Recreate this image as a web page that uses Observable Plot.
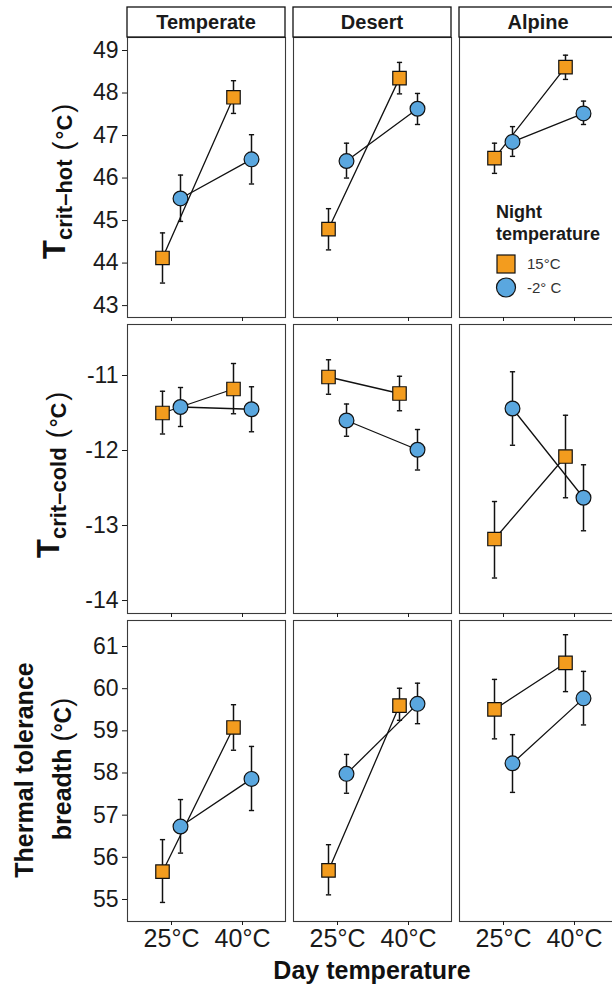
<!DOCTYPE html>
<html><head><meta charset="utf-8">
<script src="https://cdn.jsdelivr.net/npm/d3@7"></script>
<script src="https://cdn.jsdelivr.net/npm/@observablehq/plot@0.6"></script>
<style>
html,body{margin:0;padding:0;background:#fff;overflow:hidden;}
#chart{width:620px;position:relative;font-family:"Liberation Sans",Arial,sans-serif;}
#chart svg{display:block;}
</style></head><body><div id="chart"></div>
<script>
// ---- data (order: Temperate 25°C, Temperate 40°C, Desert 25°C, Desert 40°C, Alpine 25°C, Alpine 40°C)
const habitats = ["Temperate", "Desert", "Alpine"];
const days = ["25°C", "40°C"];
const nights = ["15°C", "-2° C"];

const hotMean15 = [44.12, 47.90, 44.80, 48.35, 46.47, 48.61];
const hotLo15   = [43.53, 47.52, 44.31, 47.98, 46.11, 48.32];
const hotHi15   = [44.71, 48.29, 45.28, 48.72, 46.82, 48.89];
const hotMeanM2 = [45.52, 46.44, 46.40, 47.63, 46.85, 47.52];
const hotLoM2   = [44.98, 45.86, 46.00, 47.26, 46.51, 47.26];
const hotHiM2   = [46.07, 47.02, 46.82, 47.99, 47.21, 47.81];

const coldMean15 = [-11.50, -11.18, -11.02, -11.24, -13.18, -12.08];
const coldLo15   = [-11.78, -11.51, -11.25, -11.47, -13.70, -12.63];
const coldHi15   = [-11.21, -10.84, -10.79, -11.01, -12.68, -11.53];
const coldMeanM2 = [-11.42, -11.45, -11.60, -11.99, -11.44, -12.63];
const coldLoM2   = [-11.68, -11.75, -11.81, -12.26, -11.93, -13.07];
const coldHiM2   = [-11.16, -11.15, -11.38, -11.72, -10.95, -12.19];

const brMean15 = [55.66, 59.08, 55.69, 59.60, 59.51, 60.61];
const brLo15   = [54.93, 58.54, 55.11, 59.25, 58.81, 59.93];
const brHi15   = [56.42, 59.62, 56.30, 60.01, 60.22, 61.28];
const brMeanM2 = [56.73, 57.86, 57.98, 59.64, 58.23, 59.77];
const brLoM2   = [56.10, 57.11, 57.52, 59.17, 57.54, 59.14];
const brHiM2   = [57.37, 58.63, 58.44, 60.13, 58.91, 60.41];

const hotTicks = [43, 44, 45, 46, 47, 48, 49];
const coldTicks = [-14, -13, -12, -11];
const brTicks = [55, 56, 57, 58, 59, 60, 61];

// ---- styling
const FONT = '"Liberation Sans", Arial, sans-serif';
const colors = {"15°C": "#F39C1E", "-2° C": "#5AA7DF"};
const symbols = {"15°C": "square", "-2° C": "circle"};
const radius = {"15°C": 7.6, "-2° C": 7.4};
const dodge = {"15°C": -9, "-2° C": 9};
const capSymbol = {
  draw(ctx, size) {
    const h = Math.sqrt(size / Math.PI);
    ctx.moveTo(-h, 0); ctx.lineTo(h, 0);
  }
};

function buildTable(m15, lo15, hi15, m2, lo2, hi2) {
  const rows = [];
  habitats.forEach((h, i) => days.forEach((d, j) => {
    const k = i * 2 + j;
    rows.push({habitat: h, day: d, night: nights[0], mean: m15[k], lo: lo15[k], hi: hi15[k]});
    rows.push({habitat: h, day: d, night: nights[1], mean: m2[k], lo: lo2[k], hi: hi2[k]});
  }));
  return rows;
}

function makeRow({data, domain, ticks, height, marginTop, marginBottom, xLabels}) {
  const marks = [
    Plot.frame({stroke: "#3a3a3a", strokeWidth: 1.1}),
    Plot.axisY({ticks, tickSize: 5, tickPadding: 4, fontSize: 23, label: null, tickFormat: d => String(d)}),
    Plot.axisX({tickSize: 4, tickPadding: 4, fontSize: 25, label: null, tickFormat: xLabels ? (d => d) : (() => "")})
  ];
  for (const n of nights) {
    const sub = data.filter(d => d.night === n);
    marks.push(Plot.line(sub, {fx: "habitat", x: "day", y: "mean", dx: dodge[n], stroke: "#111", strokeWidth: 1.3}));
  }
  for (const n of nights) {
    const sub = data.filter(d => d.night === n);
    marks.push(Plot.ruleX(sub, {fx: "habitat", x: "day", y1: "lo", y2: "hi", dx: dodge[n], stroke: "#111", strokeWidth: 1.5}));
    marks.push(Plot.dot(sub, {fx: "habitat", x: "day", y: "lo", dx: dodge[n], symbol: capSymbol, r: 2.6, stroke: "#111", strokeWidth: 1.4}));
    marks.push(Plot.dot(sub, {fx: "habitat", x: "day", y: "hi", dx: dodge[n], symbol: capSymbol, r: 2.6, stroke: "#111", strokeWidth: 1.4}));
  }
  for (const n of nights) {
    const sub = data.filter(d => d.night === n);
    marks.push(Plot.dot(sub, {fx: "habitat", x: "day", y: "mean", dx: dodge[n], symbol: symbols[n], r: radius[n], fill: colors[n], stroke: "#111", strokeWidth: 1.2}));
  }
  return Plot.plot({
    width: 620, height, marginLeft: 126, marginRight: 2, marginTop, marginBottom,
    style: {fontFamily: FONT, color: "#1a1a1a", background: "white", overflow: "visible"},
    fx: {domain: habitats, paddingInner: 0.048, paddingOuter: 0, axis: null, label: null},
    x: {type: "point", domain: days, padding: 0.6, label: null},
    y: {domain, label: null},
    marks
  });
}

const chart = document.getElementById("chart");

// Row 1: Tcrit-hot
const row1 = makeRow({data: buildTable(hotMean15, hotLo15, hotHi15, hotMeanM2, hotLoM2, hotHiM2),
  domain: [42.72, 49.306], ticks: hotTicks, height: 321, marginTop: 37, marginBottom: 4, xLabels: false});
// Row 2: Tcrit-cold
const row2 = makeRow({data: buildTable(coldMean15, coldLo15, coldHi15, coldMeanM2, coldLoM2, coldHiM2),
  domain: [-14.173, -10.32], ticks: coldTicks, height: 296, marginTop: 3, marginBottom: 4, xLabels: false});
// Row 3: breadth
const row3 = makeRow({data: buildTable(brMean15, brLo15, brHi15, brMeanM2, brLoM2, brHiM2),
  domain: [54.478, 61.617], ticks: brTicks, height: 370, marginTop: 3, marginBottom: 66, xLabels: true});

chart.append(row1, row2, row3);

// ---- strips (facet labels) on top row
function bandStart(scale, v) {
  if (typeof scale.apply === "function") return scale.apply(v);
  const i = scale.domain.indexOf(v);
  const [r0, r1] = scale.range;
  const step = (r1 - r0) / (scale.domain.length - scale.paddingInner + 2 * scale.paddingOuter);
  return r0 + step * scale.paddingOuter + i * step;
}
const fx1 = row1.scale("fx");
const bw = fx1.bandwidth;
const s1 = d3.select(row1);
habitats.forEach(h => {
  const x0 = bandStart(fx1, h);
  s1.append("rect").attr("x", x0).attr("y", 7).attr("width", bw).attr("height", 30)
    .attr("fill", "white").attr("stroke", "#111").attr("stroke-width", 1.3);
  s1.append("text").attr("x", x0 + bw / 2).attr("y", 29).attr("text-anchor", "middle")
    .attr("font-family", FONT).attr("font-size", 20).attr("font-weight", "bold").attr("fill", "#1a1a1a").text(h);
});

// ---- legend inside Alpine panel
const ax = bandStart(fx1, "Alpine");
const lg = s1.append("g").attr("font-family", FONT).attr("text-anchor", "start");
lg.append("text").attr("x", ax + 37).attr("y", 218).attr("font-size", 18).attr("font-weight", "bold").attr("fill", "#1a1a1a").text("Night");
lg.append("text").attr("x", ax + 37).attr("y", 240).attr("font-size", 18).attr("font-weight", "bold").attr("fill", "#1a1a1a").text("temperature");
nights.forEach((n, i) => {
  const cy = 264 + i * 23.5;
  if (symbols[n] === "square") {
    lg.append("rect").attr("x", ax + 38).attr("y", cy - 9).attr("width", 18).attr("height", 18)
      .attr("fill", colors[n]).attr("stroke", "#111").attr("stroke-width", 1.2);
  } else {
    lg.append("circle").attr("cx", ax + 47).attr("cy", cy).attr("r", 9.5)
      .attr("fill", colors[n]).attr("stroke", "#111").attr("stroke-width", 1.2);
  }
  lg.append("text").attr("x", ax + 68).attr("y", cy + 5).attr("font-size", 15).attr("fill", "#333").text(n);
});

// ---- y axis titles
function tTitle(svg, x, yStart, sub) {
  const t = d3.select(svg).append("text")
    .attr("transform", `translate(${x},${yStart}) rotate(-90)`)
    .attr("text-anchor", "start")
    .attr("font-family", FONT).attr("fill", "#111");
  t.append("tspan").attr("font-size", 31).attr("font-weight", "bold").text("T");
  t.append("tspan").attr("font-size", 22).attr("font-weight", "bold").attr("dy", 7).text(sub);
  t.append("tspan").attr("font-size", 27).attr("dx", 9).text("(");
  t.append("tspan").attr("font-size", 22).attr("font-weight", "bold").attr("dx", 2).text("°C");
  t.append("tspan").attr("font-size", 27).attr("dx", 2).text(")");
}
tTitle(row1, 65, 259, "crit\u2013hot");
tTitle(row2, 59, 558 - 321, "crit\u2013cold");

const t3 = d3.select(row3).append("g").attr("font-family", FONT).attr("fill", "#111");
t3.append("text").attr("transform", `translate(33,${770 - 617}) rotate(-90)`).attr("text-anchor", "middle")
  .attr("font-size", 25).attr("font-weight", "bold").text("Thermal tolerance");
const l2 = t3.append("text").attr("transform", `translate(71,${769 - 617}) rotate(-90)`).attr("text-anchor", "middle");
l2.append("tspan").attr("font-size", 25).attr("font-weight", "bold").text("breadth ");
l2.append("tspan").attr("font-size", 27).text("(");
l2.append("tspan").attr("font-size", 23).attr("font-weight", "bold").text("°C");
l2.append("tspan").attr("font-size", 27).text(")");

// ---- x axis title
d3.select(row3).append("text").attr("x", 372).attr("y", 979 - 617).attr("text-anchor", "middle")
  .attr("font-family", FONT).attr("font-size", 25).attr("font-weight", "bold").attr("fill", "#111").text("Day temperature");
</script></body></html>
